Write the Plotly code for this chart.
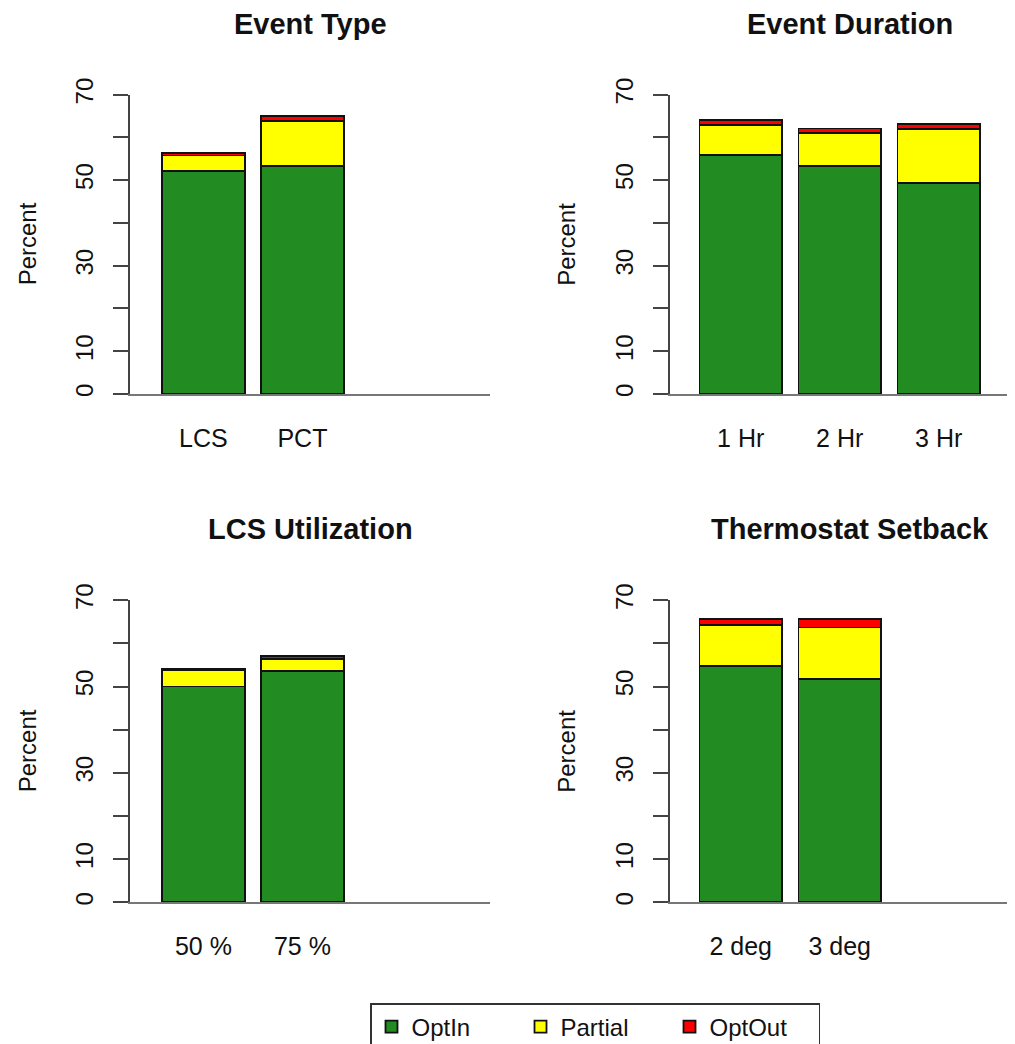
import plotly.graph_objects as go

# ---------------- data ----------------
series_names = ["OptIn", "Partial", "OptOut"]
series_colors = ["#228B22", "#FFFF00", "#FF0000"]

titles = ["Event Type", "Event Duration", "LCS Utilization", "Thermostat Setback"]

event_type_cats = ["LCS", "PCT"]
event_type_optin = [52.2, 53.3]
event_type_partial = [3.6, 10.5]
event_type_optout = [0.6, 1.3]

duration_cats = ["1 Hr", "2 Hr", "3 Hr"]
duration_optin = [55.9, 53.3, 49.3]
duration_partial = [7.1, 7.7, 12.7]
duration_optout = [1.1, 1.1, 1.2]

lcs_cats = ["50 %", "75 %"]
lcs_optin = [50.0, 53.7]
lcs_partial = [3.8, 2.7]
lcs_optout = [0.2, 0.7]

setback_cats = ["2 deg", "3 deg"]
setback_optin = [54.8, 51.7]
setback_partial = [9.5, 12.0]
setback_optout = [1.4, 2.0]

y_tickvals = [0, 10, 20, 30, 40, 50, 60, 70]
y_ticktext = ["0", "10", "", "30", "", "50", "", "70"]

panels = [
    (event_type_cats, [event_type_optin, event_type_partial, event_type_optout]),
    (duration_cats, [duration_optin, duration_partial, duration_optout]),
    (lcs_cats, [lcs_optin, lcs_partial, lcs_optout]),
    (setback_cats, [setback_optin, setback_partial, setback_optout]),
]

# ---------------- layout geometry (pixels) ----------------
W, H = 1015, 1044
OFF = 8  # page (body) offset of the figure in the browser window
FONT = "Liberation Sans, Arial, Helvetica, sans-serif"
px_per_cat = 99.0
# on-screen positions: (axis_x_left, domain_right, first_bar_center, y0_px, y70_px)
geom = [
    (130.0, 490.0, 203.4, 394.0, 94.7),
    (669.5, 1015.0, 740.7, 394.0, 94.7),
    (130.0, 490.0, 203.4, 902.3, 600.3),
    (669.5, 1015.0, 740.7, 902.3, 600.3),
]


def fx(px):
    return (px - OFF) / W


def fy(px):
    return 1 - (px - OFF) / H


fig = go.Figure()
layout = dict(
    width=W, height=H,
    margin=dict(l=0, r=0, t=0, b=0, autoexpand=False),
    paper_bgcolor="white", plot_bgcolor="white",
    barmode="stack", bargap=1/6,
    font=dict(family=FONT, size=24, color="#111"),
    annotations=[],
)

for i, (cats, vals) in enumerate(panels):
    xa = "x" if i == 0 else f"x{i+1}"
    ya = "y" if i == 0 else f"y{i+1}"
    for s, (name, col) in enumerate(zip(series_names, series_colors)):
        fig.add_trace(go.Bar(
            x=cats, y=vals[s], name=name,
            marker=dict(color=col, line=dict(color="#111", width=1.8)),
            xaxis=xa, yaxis=ya,
            legendgroup=name, showlegend=(i == 0),
        ))
    axl, dr, c0, y0p, y70p = geom[i]
    xr = [-(c0 - axl) / px_per_cat, (dr - c0) / px_per_cat]
    xkey = "xaxis" if i == 0 else f"xaxis{i+1}"
    ykey = "yaxis" if i == 0 else f"yaxis{i+1}"
    layout[xkey] = dict(
        domain=[fx(axl), fx(dr)], range=xr, anchor=ya,
        type="category", showline=True, linecolor="#777", linewidth=2,
        ticks="", ticklabelstandoff=21, showgrid=False, zeroline=False,
        tickfont=dict(size=25, family=FONT, color="#111"), fixedrange=True,
    )
    layout[ykey] = dict(
        domain=[fy(y0p), fy(y70p)], range=[0, 70], anchor=xa,
        tickvals=y_tickvals, ticktext=y_ticktext, tickangle=-90,
        ticks="outside", ticklen=15, tickwidth=2, tickcolor="#444",
        showline=True, linecolor="#444", linewidth=2,
        showgrid=False, zeroline=False, ticklabelstandoff=10,
        tickfont=dict(size=24, family=FONT, color="#111"),
    )
    # panel title
    cx = (axl + (dr if i % 2 == 0 else axl + 360)) / 2
    layout["annotations"].append(dict(
        text=f"<b>{titles[i]}</b>", xref="paper", yref="paper",
        x=fx(cx), y=fy(y70p - 71), xanchor="center", yanchor="middle",
        borderpad=0, showarrow=False,
        font=dict(size=29, family=FONT, color="#111"),
    ))
    # y-axis title
    layout["annotations"].append(dict(
        text="Percent", xref="paper", yref="paper",
        x=fx(axl - 103), y=fy((y0p + y70p) / 2),
        xanchor="center", yanchor="middle", textangle=-90,
        showarrow=False, font=dict(size=24, family=FONT, color="#111"),
    ))

layout["legend"] = dict(
    orientation="h", x=fx(370), y=fy(1003), xanchor="left", yanchor="top",
    bordercolor="#333", borderwidth=1.5, bgcolor="white",
    font=dict(size=24, family=FONT, color="#111"),
    entrywidth=104, entrywidthmode="pixels", traceorder="normal",
)

fig.update_layout(**layout)
fig.write_html("out.html")
